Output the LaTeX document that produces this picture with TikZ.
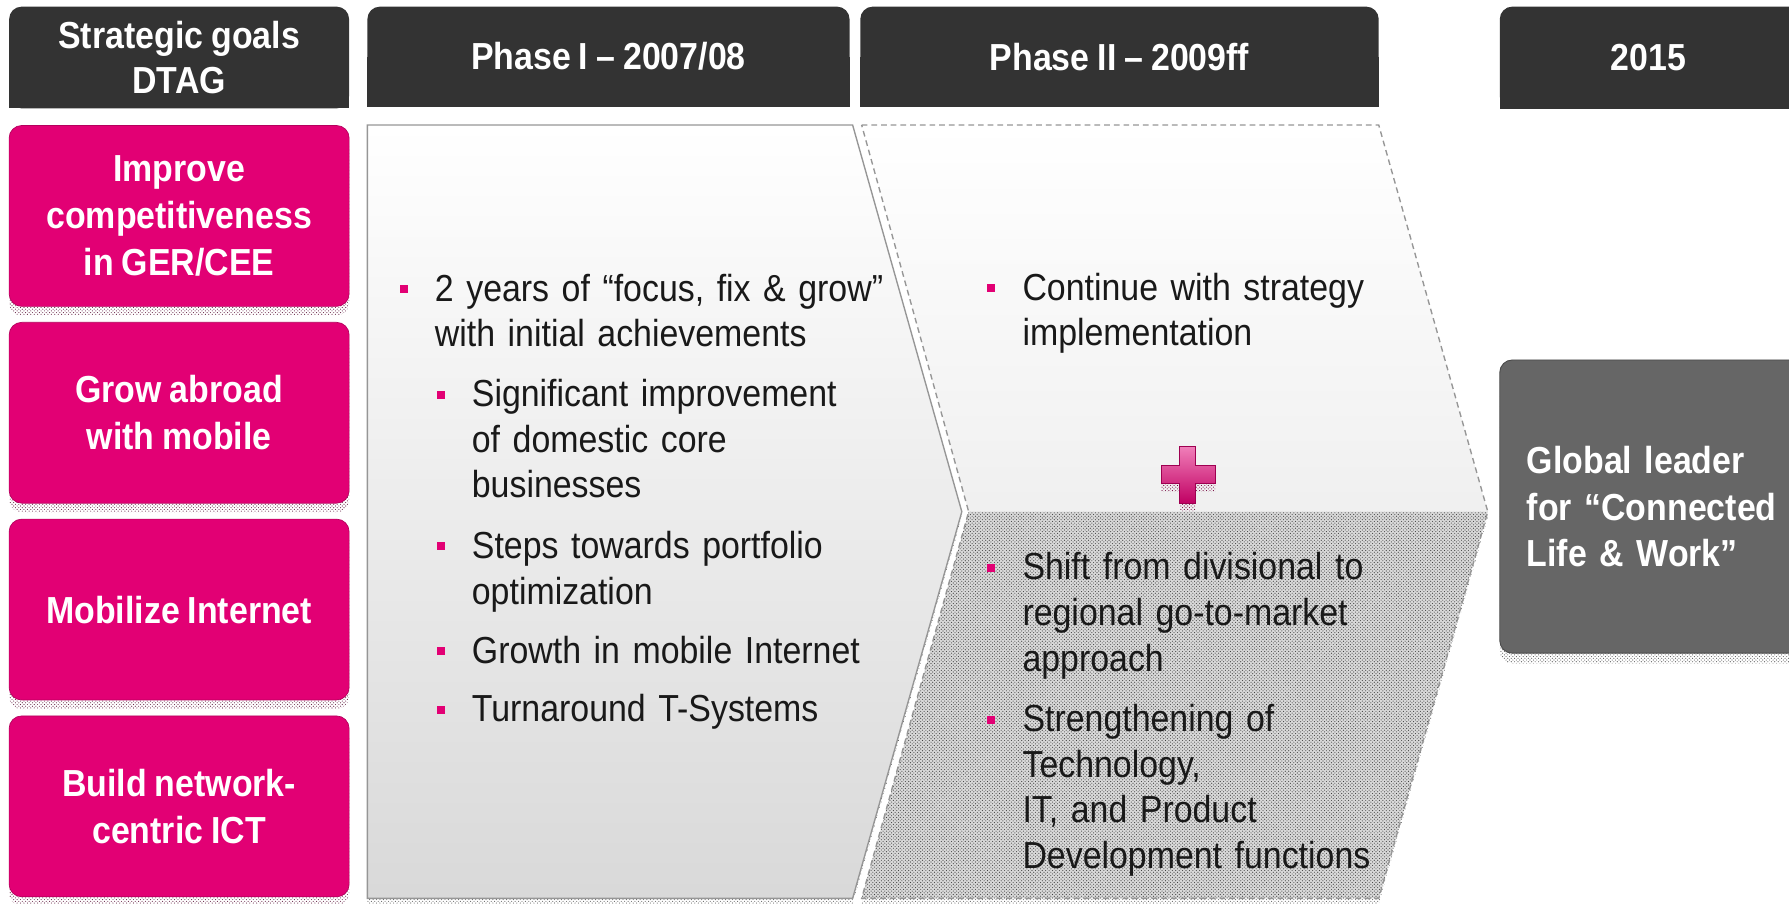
\documentclass[tikz,border=0pt]{standalone}
\usepackage{fontspec}
\setmainfont{Liberation Sans}[FakeStretch=0.9, WordSpace=0.85]
\usetikzlibrary{patterns,shadows}
\definecolor{tpink}{RGB}{226,0,116}
\definecolor{tdark}{RGB}{51,51,51}
\definecolor{tgrey}{RGB}{102,102,102}
\definecolor{tline}{RGB}{150,150,150}

\tikzset{
  headfill/.style={fill=tdark},
  headtxt/.style={text=white, inner sep=0pt, align=center,
    font=\fontsize{33}{40}\selectfont\bfseries},
  goalbox/.style={rounded corners=11pt, fill=tpink, draw=tpink!80!black,
    line width=0.6pt, text=white, inner sep=0pt, align=center,
    minimum width=298pt, minimum height=158.5pt,
    font=\fontsize{33}{41}\selectfont\bfseries,
    general shadow={shadow yshift=-8pt, pattern=crosshatch dots,
      pattern color=tpink!35!black!85}},
  visionbox/.style={rounded corners=11pt, fill=tgrey, draw=tgrey!75!black,
    line width=0.8pt, minimum width=266pt, minimum height=257pt,
    general shadow={shadow yshift=-9pt, pattern=crosshatch dots,
      pattern color=black!65}},
  visiontxt/.style={anchor=base west, inner sep=0pt, text=white, align=left,
    text width=240pt, font=\fontsize{33}{41}\selectfont\bfseries},
  bodytxt/.style={anchor=base west, inner sep=0pt, text=black!90, align=left,
    text width=420pt, font=\fontsize{33}{40}\selectfont},
  bullet/.style={fill=tpink, minimum size=7pt, inner sep=0pt},
  phaseone/.style={draw=tline, line width=1.2pt, top color=white,
    bottom color=gray!30,
    general shadow={shadow yshift=-5pt, pattern=crosshatch dots,
      pattern color=black!60}},
  phasetwo/.style={draw=tline, line width=1.2pt, dash pattern=on 5pt off 3.5pt},
  plussign/.style={draw=tpink!70!black, line width=0.6pt, top color=tpink!50,
    bottom color=tpink!85!black,
    general shadow={shadow yshift=-7pt, pattern=crosshatch dots,
      pattern color=tpink!50!black}},
}

\begin{document}
\begin{tikzpicture}[x=1pt, y=-1pt]
\useasboundingbox (0,0) rectangle (1568,791.5);

% column headers
\fill[headfill, rounded corners=11pt] (8,5.8) rectangle (306,95);
\fill[headfill] (8,50) rectangle (306,95);
\fill[headfill, rounded corners=11pt] (322,5.8) rectangle (744.6,93.5);
\fill[headfill] (322,50) rectangle (744.6,93.5);
\fill[headfill, rounded corners=11pt] (754,5.8) rectangle (1208.4,93.5);
\fill[headfill] (754,50) rectangle (1208.4,93.5);
\fill[headfill, rounded corners=11pt] (1314.5,5.8) rectangle (1600,95.5);
\fill[headfill] (1314.5,50) rectangle (1600,95.5);
\node[headtxt] (hgoal) at (157,50.4) {Strategic goals\\DTAG};
\node[headtxt] (hone) at (533.3,49.6) {Phase I – 2007/08};
\node[headtxt] (htwo) at (981.2,49.6) {Phase II – 2009ff};
\node[headtxt] (hend) at (1445,50.6) {2015};

% strategic goals
\node[goalbox] (gcomp) at (157,189.25) {Improve\\competitiveness\\in GER/CEE};
\node[goalbox] (gabroad) at (157,361.75) {Grow abroad\\with mobile};
\node[goalbox] (gmobile) at (157,534.25) {Mobilize Internet};
\node[goalbox] (gict) at (157,706.75) {Build network-\\centric ICT};

% phase I arrow
\draw[phaseone] (322,109.6) -- (747.3,109.6) -- (843,448.5)
  -- (747.3,787.4) -- (322,787.4) -- cycle;

% phase II arrow, upper and lower part
\path[top color=white, bottom color=gray!12] (755.2,109.6) -- (1208.4,109.6)
  -- (1304,448.5) -- (849,448.5) -- cycle;
\path[fill=gray!30, postaction={pattern=crosshatch dots, pattern color=black!75},
  general shadow={shadow yshift=-5pt, pattern=crosshatch dots,
    pattern color=black!60}]
  (849,448.5) -- (1304,448.5) -- (1208.4,787.4) -- (755.2,787.4) -- cycle;
\draw[phasetwo] (755.2,109.6) -- (1208.4,109.6) -- (1304,448.5)
  -- (1208.4,787.4) -- (755.2,787.4) -- (849,448.5) -- cycle;

% plus
\draw[plussign] (1034,391) -- (1048,391) -- (1048,408) -- (1065,408)
  -- (1065,424) -- (1048,424) -- (1048,441) -- (1034,441) -- (1034,424)
  -- (1018,424) -- (1018,408) -- (1034,408) -- cycle;

% phase I bullets
\node[bullet] (b1) at (354,253.5) {};
\node[bodytxt] (t1) at (381,264) {2 years of “focus, fix \& grow”\\with initial achievements};
\node[bullet] (b1a) at (386.6,345.8) {};
\node[bodytxt] (t1a) at (413.4,356.4) {Significant improvement\\of domestic core\\businesses};
\node[bullet] (b1b) at (386.6,478.8) {};
\node[bodytxt] (t1b) at (413.4,489.4) {Steps towards portfolio\\optimization};
\node[bullet] (b1c) at (386.6,570.8) {};
\node[bodytxt] (t1c) at (413.4,581.4) {Growth in mobile Internet};
\node[bullet] (b1d) at (386.6,622) {};
\node[bodytxt] (t1d) at (413.4,632.5) {Turnaround T-Systems};

% phase II bullets
\node[bullet] (b2) at (868.5,252.5) {};
\node[bodytxt] (t2) at (896,263) {Continue with strategy\\implementation};
\node[bullet] (b2a) at (868.5,497.7) {};
\node[bodytxt] (t2a) at (896,508.3) {Shift from divisional to\\regional go-to-market\\approach};
\node[bullet] (b2b) at (868.5,630.7) {};
\node[bodytxt] (t2b) at (896,641.3) {Strengthening of\\Technology,\\IT, and Product\\Development functions};

% vision 2015
\node[visionbox] (vision) at (1447.5,444) {};
\node[visiontxt] (vtxt) at (1338,414.9) {Global leader\\for “Connected\\Life \& Work”};
\end{tikzpicture}
\end{document}
